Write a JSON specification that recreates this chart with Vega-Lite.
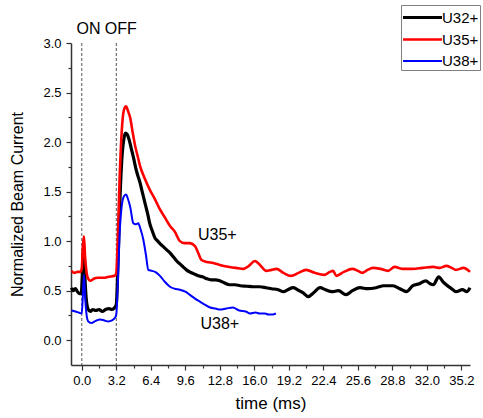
{
  "$schema": "https://vega.github.io/schema/vega-lite/v6.json",
  "width": 399,
  "height": 322,
  "autosize": {"type": "none"},
  "padding": {"left": 71, "top": 43, "right": 13, "bottom": 53},
  "background": "white",
  "config": {
    "view": {"stroke": null},
    "font": "Liberation Sans",
    "axis": {
      "grid": false,
      "domainColor": "#333333",
      "domainWidth": 1.5,
      "tickColor": "#333333",
      "tickWidth": 1.2,
      "labelFont": "Liberation Sans",
      "labelFontSize": 13,
      "labelColor": "#000000",
      "labelOverlap": false,
      "titleFont": "Liberation Sans",
      "titleFontSize": 16,
      "titleFontWeight": "normal",
      "titleColor": "#000000"
    }
  },
  "datasets": {
    "pulses": [{"t": 0}, {"t": 3.2}],
    "notes": [
      {"label": "ON", "t": 0.63, "v": 3.14},
      {"label": "OFF", "t": 3.62, "v": 3.14},
      {"label": "U35+", "t": 12.57, "v": 1.065},
      {"label": "U38+", "t": 12.8, "v": 0.16}
    ],
    "current": [
      {"ion": "U32+", "t": -0.95, "v": 0.53}, {"ion": "U32+", "t": -0.8, "v": 0.50}, {"ion": "U32+", "t": -0.6, "v": 0.52},
      {"ion": "U32+", "t": -0.4, "v": 0.49}, {"ion": "U32+", "t": -0.2, "v": 0.47}, {"ion": "U32+", "t": -0.05, "v": 0.47},
      {"ion": "U32+", "t": 0.1, "v": 0.80}, {"ion": "U32+", "t": 0.2, "v": 0.93}, {"ion": "U32+", "t": 0.3, "v": 0.62},
      {"ion": "U32+", "t": 0.45, "v": 0.38}, {"ion": "U32+", "t": 0.6, "v": 0.31}, {"ion": "U32+", "t": 0.8, "v": 0.29},
      {"ion": "U32+", "t": 1.0, "v": 0.31}, {"ion": "U32+", "t": 1.3, "v": 0.30}, {"ion": "U32+", "t": 1.6, "v": 0.31},
      {"ion": "U32+", "t": 1.9, "v": 0.29}, {"ion": "U32+", "t": 2.2, "v": 0.31}, {"ion": "U32+", "t": 2.5, "v": 0.32},
      {"ion": "U32+", "t": 2.8, "v": 0.31}, {"ion": "U32+", "t": 3.05, "v": 0.33}, {"ion": "U32+", "t": 3.2, "v": 0.36},
      {"ion": "U32+", "t": 3.35, "v": 0.75}, {"ion": "U32+", "t": 3.5, "v": 1.3}, {"ion": "U32+", "t": 3.7, "v": 1.8},
      {"ion": "U32+", "t": 3.9, "v": 2.03}, {"ion": "U32+", "t": 4.05, "v": 2.09}, {"ion": "U32+", "t": 4.2, "v": 2.08},
      {"ion": "U32+", "t": 4.4, "v": 2.02}, {"ion": "U32+", "t": 4.6, "v": 1.93}, {"ion": "U32+", "t": 4.8, "v": 1.84},
      {"ion": "U32+", "t": 5.0, "v": 1.74}, {"ion": "U32+", "t": 5.2, "v": 1.66}, {"ion": "U32+", "t": 5.4, "v": 1.59},
      {"ion": "U32+", "t": 5.6, "v": 1.50}, {"ion": "U32+", "t": 5.85, "v": 1.39}, {"ion": "U32+", "t": 6.1, "v": 1.28},
      {"ion": "U32+", "t": 6.3, "v": 1.18}, {"ion": "U32+", "t": 6.55, "v": 1.10}, {"ion": "U32+", "t": 6.8, "v": 1.03},
      {"ion": "U32+", "t": 7.05, "v": 1.00}, {"ion": "U32+", "t": 7.3, "v": 0.97}, {"ion": "U32+", "t": 7.6, "v": 0.94},
      {"ion": "U32+", "t": 7.9, "v": 0.91}, {"ion": "U32+", "t": 8.2, "v": 0.88}, {"ion": "U32+", "t": 8.5, "v": 0.84},
      {"ion": "U32+", "t": 8.8, "v": 0.80}, {"ion": "U32+", "t": 9.1, "v": 0.77}, {"ion": "U32+", "t": 9.4, "v": 0.74},
      {"ion": "U32+", "t": 9.7, "v": 0.71}, {"ion": "U32+", "t": 10.0, "v": 0.69}, {"ion": "U32+", "t": 10.4, "v": 0.67},
      {"ion": "U32+", "t": 10.8, "v": 0.65}, {"ion": "U32+", "t": 11.2, "v": 0.64}, {"ion": "U32+", "t": 11.6, "v": 0.62},
      {"ion": "U32+", "t": 12.0, "v": 0.61}, {"ion": "U32+", "t": 12.4, "v": 0.61}, {"ion": "U32+", "t": 12.8, "v": 0.60},
      {"ion": "U32+", "t": 13.2, "v": 0.58}, {"ion": "U32+", "t": 13.7, "v": 0.56}, {"ion": "U32+", "t": 14.2, "v": 0.56},
      {"ion": "U32+", "t": 14.7, "v": 0.55}, {"ion": "U32+", "t": 15.3, "v": 0.545}, {"ion": "U32+", "t": 15.9, "v": 0.54},
      {"ion": "U32+", "t": 16.5, "v": 0.54}, {"ion": "U32+", "t": 17.1, "v": 0.53}, {"ion": "U32+", "t": 17.6, "v": 0.52},
      {"ion": "U32+", "t": 18.2, "v": 0.51}, {"ion": "U32+", "t": 18.7, "v": 0.49}, {"ion": "U32+", "t": 19.1, "v": 0.51},
      {"ion": "U32+", "t": 19.6, "v": 0.53}, {"ion": "U32+", "t": 20.0, "v": 0.51}, {"ion": "U32+", "t": 20.5, "v": 0.48},
      {"ion": "U32+", "t": 21.0, "v": 0.44}, {"ion": "U32+", "t": 21.5, "v": 0.48}, {"ion": "U32+", "t": 22.1, "v": 0.53},
      {"ion": "U32+", "t": 22.6, "v": 0.51}, {"ion": "U32+", "t": 23.2, "v": 0.49}, {"ion": "U32+", "t": 23.8, "v": 0.50},
      {"ion": "U32+", "t": 24.5, "v": 0.46}, {"ion": "U32+", "t": 25.1, "v": 0.50}, {"ion": "U32+", "t": 25.8, "v": 0.53},
      {"ion": "U32+", "t": 26.5, "v": 0.52}, {"ion": "U32+", "t": 27.3, "v": 0.53}, {"ion": "U32+", "t": 28.0, "v": 0.55},
      {"ion": "U32+", "t": 28.85, "v": 0.55}, {"ion": "U32+", "t": 29.5, "v": 0.52}, {"ion": "U32+", "t": 30.1, "v": 0.49},
      {"ion": "U32+", "t": 30.7, "v": 0.55}, {"ion": "U32+", "t": 31.3, "v": 0.57}, {"ion": "U32+", "t": 31.9, "v": 0.60},
      {"ion": "U32+", "t": 32.3, "v": 0.57}, {"ion": "U32+", "t": 32.6, "v": 0.56}, {"ion": "U32+", "t": 33.1, "v": 0.64},
      {"ion": "U32+", "t": 33.5, "v": 0.59}, {"ion": "U32+", "t": 33.8, "v": 0.56}, {"ion": "U32+", "t": 34.3, "v": 0.52},
      {"ion": "U32+", "t": 34.7, "v": 0.49}, {"ion": "U32+", "t": 35.3, "v": 0.51}, {"ion": "U32+", "t": 35.7, "v": 0.49},
      {"ion": "U32+", "t": 36.0, "v": 0.53},

      {"ion": "U35+", "t": -0.95, "v": 0.70}, {"ion": "U35+", "t": -0.7, "v": 0.68}, {"ion": "U35+", "t": -0.4, "v": 0.69},
      {"ion": "U35+", "t": -0.15, "v": 0.69}, {"ion": "U35+", "t": 0.0, "v": 0.72}, {"ion": "U35+", "t": 0.1, "v": 0.95},
      {"ion": "U35+", "t": 0.2, "v": 1.05}, {"ion": "U35+", "t": 0.3, "v": 0.85}, {"ion": "U35+", "t": 0.45, "v": 0.68},
      {"ion": "U35+", "t": 0.6, "v": 0.62}, {"ion": "U35+", "t": 0.8, "v": 0.60}, {"ion": "U35+", "t": 1.1, "v": 0.62},
      {"ion": "U35+", "t": 1.5, "v": 0.63}, {"ion": "U35+", "t": 2.0, "v": 0.63}, {"ion": "U35+", "t": 2.5, "v": 0.64},
      {"ion": "U35+", "t": 3.05, "v": 0.65}, {"ion": "U35+", "t": 3.2, "v": 0.68}, {"ion": "U35+", "t": 3.35, "v": 1.05},
      {"ion": "U35+", "t": 3.5, "v": 1.6}, {"ion": "U35+", "t": 3.7, "v": 2.1}, {"ion": "U35+", "t": 3.9, "v": 2.32},
      {"ion": "U35+", "t": 4.1, "v": 2.36}, {"ion": "U35+", "t": 4.3, "v": 2.31}, {"ion": "U35+", "t": 4.5, "v": 2.24},
      {"ion": "U35+", "t": 4.7, "v": 2.11}, {"ion": "U35+", "t": 4.95, "v": 1.96}, {"ion": "U35+", "t": 5.2, "v": 1.85},
      {"ion": "U35+", "t": 5.4, "v": 1.76}, {"ion": "U35+", "t": 5.85, "v": 1.63}, {"ion": "U35+", "t": 6.3, "v": 1.52},
      {"ion": "U35+", "t": 6.8, "v": 1.42}, {"ion": "U35+", "t": 7.25, "v": 1.32}, {"ion": "U35+", "t": 7.7, "v": 1.24},
      {"ion": "U35+", "t": 8.2, "v": 1.15}, {"ion": "U35+", "t": 8.6, "v": 1.10}, {"ion": "U35+", "t": 9.1, "v": 1.00},
      {"ion": "U35+", "t": 9.5, "v": 0.98}, {"ion": "U35+", "t": 10.0, "v": 0.98}, {"ion": "U35+", "t": 10.5, "v": 0.95},
      {"ion": "U35+", "t": 10.8, "v": 0.88}, {"ion": "U35+", "t": 11.1, "v": 0.81}, {"ion": "U35+", "t": 11.6, "v": 0.79},
      {"ion": "U35+", "t": 12.2, "v": 0.78}, {"ion": "U35+", "t": 12.8, "v": 0.76}, {"ion": "U35+", "t": 13.7, "v": 0.74},
      {"ion": "U35+", "t": 14.3, "v": 0.73}, {"ion": "U35+", "t": 15.0, "v": 0.72}, {"ion": "U35+", "t": 15.5, "v": 0.75},
      {"ion": "U35+", "t": 16.05, "v": 0.80}, {"ion": "U35+", "t": 16.6, "v": 0.75}, {"ion": "U35+", "t": 17.1, "v": 0.70},
      {"ion": "U35+", "t": 17.6, "v": 0.71}, {"ion": "U35+", "t": 18.05, "v": 0.72}, {"ion": "U35+", "t": 18.7, "v": 0.68},
      {"ion": "U35+", "t": 19.4, "v": 0.65}, {"ion": "U35+", "t": 20.1, "v": 0.68}, {"ion": "U35+", "t": 20.8, "v": 0.71},
      {"ion": "U35+", "t": 21.6, "v": 0.68}, {"ion": "U35+", "t": 22.5, "v": 0.66}, {"ion": "U35+", "t": 23.0, "v": 0.69},
      {"ion": "U35+", "t": 23.3, "v": 0.70}, {"ion": "U35+", "t": 23.6, "v": 0.65}, {"ion": "U35+", "t": 24.3, "v": 0.69},
      {"ion": "U35+", "t": 25.1, "v": 0.72}, {"ion": "U35+", "t": 25.6, "v": 0.70}, {"ion": "U35+", "t": 26.0, "v": 0.68},
      {"ion": "U35+", "t": 26.5, "v": 0.71}, {"ion": "U35+", "t": 27.0, "v": 0.73}, {"ion": "U35+", "t": 27.7, "v": 0.72},
      {"ion": "U35+", "t": 28.4, "v": 0.70}, {"ion": "U35+", "t": 29.0, "v": 0.74}, {"ion": "U35+", "t": 29.8, "v": 0.72},
      {"ion": "U35+", "t": 30.7, "v": 0.72}, {"ion": "U35+", "t": 31.6, "v": 0.73}, {"ion": "U35+", "t": 32.6, "v": 0.74},
      {"ion": "U35+", "t": 33.2, "v": 0.73}, {"ion": "U35+", "t": 33.8, "v": 0.75}, {"ion": "U35+", "t": 34.3, "v": 0.73},
      {"ion": "U35+", "t": 34.7, "v": 0.71}, {"ion": "U35+", "t": 35.4, "v": 0.73}, {"ion": "U35+", "t": 36.0, "v": 0.69},

      {"ion": "U38+", "t": -0.95, "v": 0.30}, {"ion": "U38+", "t": -0.6, "v": 0.29}, {"ion": "U38+", "t": -0.3, "v": 0.28},
      {"ion": "U38+", "t": 0.0, "v": 0.27}, {"ion": "U38+", "t": 0.1, "v": 0.45}, {"ion": "U38+", "t": 0.2, "v": 0.66},
      {"ion": "U38+", "t": 0.3, "v": 0.45}, {"ion": "U38+", "t": 0.45, "v": 0.25}, {"ion": "U38+", "t": 0.6, "v": 0.19},
      {"ion": "U38+", "t": 0.9, "v": 0.175}, {"ion": "U38+", "t": 1.2, "v": 0.19}, {"ion": "U38+", "t": 1.7, "v": 0.21},
      {"ion": "U38+", "t": 2.1, "v": 0.20}, {"ion": "U38+", "t": 2.45, "v": 0.19}, {"ion": "U38+", "t": 2.8, "v": 0.20},
      {"ion": "U38+", "t": 3.08, "v": 0.226}, {"ion": "U38+", "t": 3.2, "v": 0.26}, {"ion": "U38+", "t": 3.35, "v": 0.6},
      {"ion": "U38+", "t": 3.5, "v": 1.05}, {"ion": "U38+", "t": 3.7, "v": 1.35}, {"ion": "U38+", "t": 3.9, "v": 1.45},
      {"ion": "U38+", "t": 4.1, "v": 1.47}, {"ion": "U38+", "t": 4.3, "v": 1.42}, {"ion": "U38+", "t": 4.5, "v": 1.34},
      {"ion": "U38+", "t": 4.78, "v": 1.18}, {"ion": "U38+", "t": 5.0, "v": 1.17}, {"ion": "U38+", "t": 5.24, "v": 1.18},
      {"ion": "U38+", "t": 5.45, "v": 1.12}, {"ion": "U38+", "t": 5.7, "v": 1.02}, {"ion": "U38+", "t": 5.95, "v": 0.86},
      {"ion": "U38+", "t": 6.17, "v": 0.71}, {"ion": "U38+", "t": 6.5, "v": 0.70}, {"ion": "U38+", "t": 6.8, "v": 0.69},
      {"ion": "U38+", "t": 7.25, "v": 0.65}, {"ion": "U38+", "t": 7.7, "v": 0.59}, {"ion": "U38+", "t": 8.18, "v": 0.54},
      {"ion": "U38+", "t": 8.6, "v": 0.52}, {"ion": "U38+", "t": 9.1, "v": 0.51}, {"ion": "U38+", "t": 9.6, "v": 0.49},
      {"ion": "U38+", "t": 10.0, "v": 0.46}, {"ion": "U38+", "t": 10.5, "v": 0.42}, {"ion": "U38+", "t": 10.95, "v": 0.39},
      {"ion": "U38+", "t": 11.4, "v": 0.36}, {"ion": "U38+", "t": 11.9, "v": 0.33}, {"ion": "U38+", "t": 12.4, "v": 0.32},
      {"ion": "U38+", "t": 12.8, "v": 0.31}, {"ion": "U38+", "t": 13.4, "v": 0.32}, {"ion": "U38+", "t": 14.0, "v": 0.33},
      {"ion": "U38+", "t": 14.6, "v": 0.30}, {"ion": "U38+", "t": 15.2, "v": 0.29}, {"ion": "U38+", "t": 15.6, "v": 0.27},
      {"ion": "U38+", "t": 16.1, "v": 0.28}, {"ion": "U38+", "t": 16.5, "v": 0.27}, {"ion": "U38+", "t": 17.0, "v": 0.27},
      {"ion": "U38+", "t": 17.3, "v": 0.26}, {"ion": "U38+", "t": 17.7, "v": 0.26}, {"ion": "U38+", "t": 18.0, "v": 0.27}
    ]
  },
  "encoding": {
    "x": {
      "field": "t",
      "type": "quantitative",
      "scale": {"domain": [-1, 36], "nice": false, "zero": false},
      "axis": {
        "title": "time (ms)",
        "titleFontSize": 17,
        "values": [0, 1.6, 3.2, 4.8, 6.4, 8, 9.6, 11.2, 12.8, 14.4, 16, 17.6, 19.2, 20.8, 22.4, 24, 25.6, 27.2, 28.8, 30.4, 32, 33.6, 35.2],
        "labelExpr": "abs(datum.value / 3.2 - round(datum.value / 3.2)) < 0.01 ? format(datum.value, '.1f') : ''",
        "tickSize": {"condition": {"test": "abs(datum.value / 3.2 - round(datum.value / 3.2)) < 0.01", "value": 5}, "value": 3},
        "labelPadding": 4,
        "labelOverlap": false,
        "labelFlush": false,
        "titlePadding": 8
      }
    }
  },
  "layer": [
    {
      "data": {"name": "pulses"},
      "mark": {"type": "rule", "color": "#555555", "strokeWidth": 1, "strokeDash": [3, 2]},
      "encoding": {}
    },
    {
      "data": {"name": "current"},
      "mark": {"type": "line", "strokeJoin": "round", "interpolate": "monotone"},
      "encoding": {
        "y": {
          "field": "v",
          "type": "quantitative",
          "scale": {"domain": [-0.25, 3.0], "nice": false, "zero": false},
          "axis": {
            "title": "Normalized Beam Current",
            "values": [0, 0.25, 0.5, 0.75, 1, 1.25, 1.5, 1.75, 2, 2.25, 2.5, 2.75, 3],
            "labelExpr": "abs(datum.value * 2 - round(datum.value * 2)) < 0.01 ? format(datum.value, '.1f') : ''",
            "tickSize": {"condition": {"test": "abs(datum.value * 2 - round(datum.value * 2)) < 0.01", "value": 5}, "value": 3},
            "labelPadding": 5,
            "labelOverlap": false,
            "titlePadding": 17
          }
        },
        "color": {
          "field": "ion",
          "type": "nominal",
          "scale": {"domain": ["U32+", "U35+", "U38+"], "range": ["#000000", "#ff0000", "#0000ff"]},
          "legend": {
            "title": null,
            "orient": "none",
            "legendX": 330,
            "legendY": -38,
            "symbolType": "M-2,0H2",
            "symbolSize": 380,
            "symbolStrokeWidth": 2,
            "symbolOffset": 9,
            "labelOffset": 8,
            "labelFont": "Liberation Sans",
            "labelFontSize": 15,
            "labelColor": "#000000",
            "strokeColor": "#808080",
            "fillColor": "white",
            "padding": 1,
            "rowPadding": 2
          }
        },
        "strokeWidth": {
          "field": "ion",
          "type": "nominal",
          "scale": {"domain": ["U32+", "U35+", "U38+"], "range": [3.2, 2, 2]},
          "legend": null
        }
      }
    },
    {
      "data": {"name": "notes"},
      "mark": {"type": "text", "font": "Liberation Sans", "fontSize": 16, "color": "#000000", "align": "center", "baseline": "middle"},
      "encoding": {
        "y": {
          "field": "v",
          "type": "quantitative",
          "axis": {
            "title": "Normalized Beam Current",
            "values": [0, 0.25, 0.5, 0.75, 1, 1.25, 1.5, 1.75, 2, 2.25, 2.5, 2.75, 3],
            "labelExpr": "abs(datum.value * 2 - round(datum.value * 2)) < 0.01 ? format(datum.value, '.1f') : ''",
            "tickSize": {"condition": {"test": "abs(datum.value * 2 - round(datum.value * 2)) < 0.01", "value": 5}, "value": 3},
            "labelPadding": 5,
            "labelOverlap": false,
            "titlePadding": 17
          }
        },
        "text": {"field": "label"}
      }
    }
  ]
}
